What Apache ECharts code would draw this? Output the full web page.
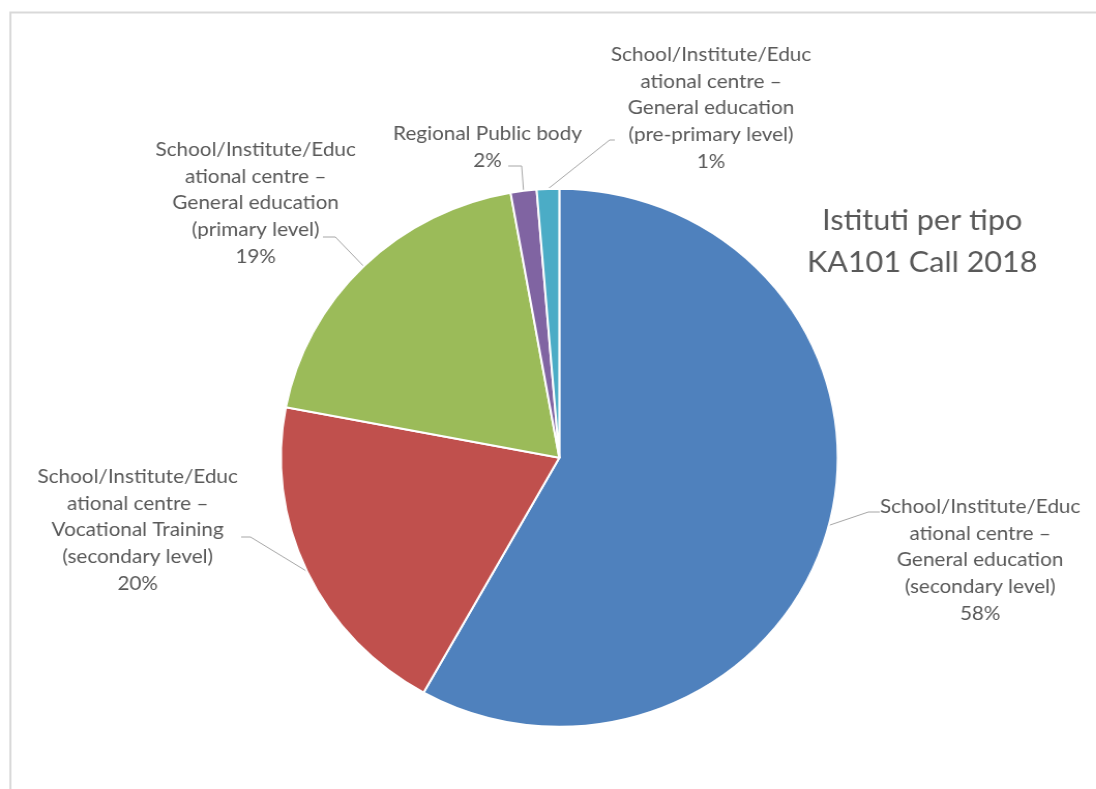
<!DOCTYPE html>
<html><head><meta charset="utf-8">
<script src="https://cdn.jsdelivr.net/npm/echarts@6/dist/echarts.min.js"></script>
<style>
html,body{margin:0;padding:0;background:#fff;overflow:hidden}
#c{width:1059px;height:789px;transform:scaleX(1.035);transform-origin:0 0}
</style>
</head><body><div id="c"></div>
<script>
const categories = [
  "School/Institute/Educ\national centre –\nGeneral education\n(secondary level)",
  "School/Institute/Educ\national centre –\nVocational Training\n(secondary level)",
  "School/Institute/Educ\national centre –\nGeneral education\n(primary level)",
  "Regional Public body",
  "School/Institute/Educ\national centre –\nGeneral education\n(pre-primary level)"
];
const values = [58.1, 19.9, 19.2, 1.5, 1.3];
const colors = ["#4F81BD", "#C0504D", "#9BBB59", "#8064A2", "#4BACC6"];
const titleLines = ["Istituti per tipo", "KA101 Call 2018"];
// layout only (unscaled chart coordinates): label block centres and leader-line [endX, elbowX, y]
const labelPos = [[947, 560], [133, 530], [247, 203], [471, 147], [687, 108]];
const leaderPos = [[850, 839, 512], [233, 242, 537], [312, 324, 237], [491, 504, 166], [594, 589, 140]];

const CENTER = [540.4, 457.7], RADIUS = 269;
const total = values.reduce((a, b) => a + b, 0);
function edgePoint(i) {
  let before = 0;
  for (let k = 0; k < i; k++) before += values[k];
  const a = (before + values[i] / 2) / total * 2 * Math.PI;
  return [CENTER[0] + RADIUS * Math.sin(a), CENTER[1] - RADIUS * Math.cos(a)];
}
const chart = echarts.init(document.getElementById('c'));
chart.setOption({
  animation: false,
  graphic: [{
    type: 'rect', shape: { x: 10, y: 12.5, width: 1200, height: 900 },
    style: { fill: 'none', stroke: '#d9d9d9', lineWidth: 2 }, z: -1
  }],
  title: {
    text: titleLines.join('\n'), left: 886, top: 194, textAlign: 'center',
    textStyle: { fontFamily: 'Lato', fontWeight: 'normal', fontSize: 29.5, color: '#595959', lineHeight: 42 }
  },
  series: [{
    type: 'pie', center: CENTER, radius: RADIUS, startAngle: 90, clockwise: true,
    itemStyle: { borderColor: '#fff', borderWidth: 2 },
    data: values.map((v, i) => ({ value: v, name: categories[i], itemStyle: { color: colors[i] } })),
    label: {
      show: true, position: 'outside',
      formatter: p => p.name + '\n' + Math.round(p.value / total * 100) + '%',
      fontFamily: 'Lato', fontSize: 20, color: '#595959', lineHeight: 26.75, align: 'center'
    },
    labelLine: { show: true, length: 10, length2: 10, lineStyle: { color: '#a6a6a6', width: 1 } },
    labelLayout: p => {
      const i = p.dataIndex;
      const start = (p.labelLinePoints && p.labelLinePoints[0]) || edgePoint(i);
      const L = leaderPos[i];
      return {
        x: labelPos[i][0], y: labelPos[i][1], align: 'center', verticalAlign: 'middle',
        labelLinePoints: [start, [L[1], L[2]], [L[0], L[2]]]
      };
    }
  }]
});
</script></body></html>
